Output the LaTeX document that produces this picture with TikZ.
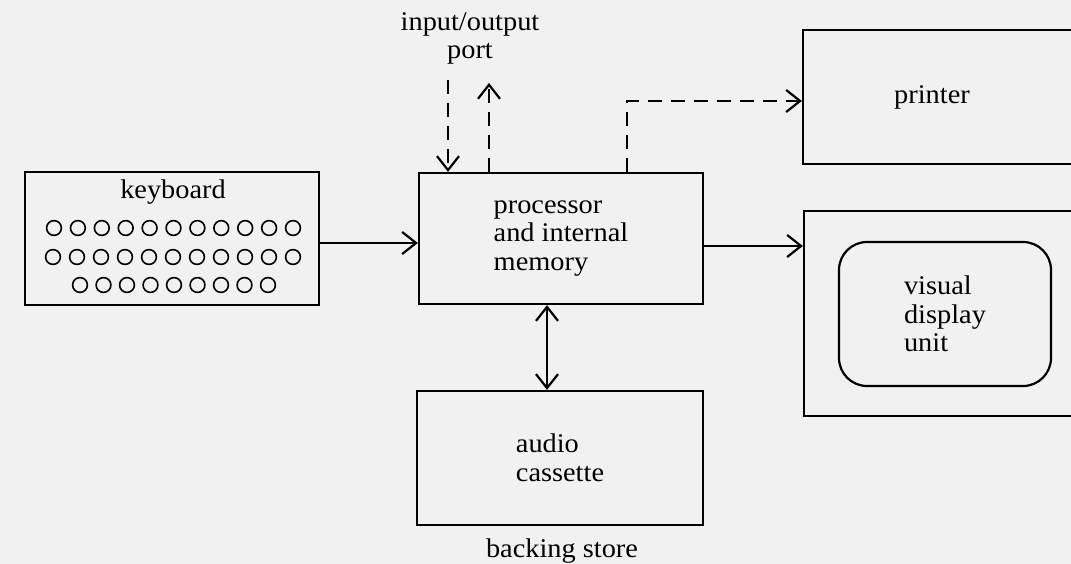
\documentclass[tikz,border=0pt]{standalone}
\usepackage{fontspec}
\setmainfont{Liberation Serif}[FakeStretch=1.05]
\usetikzlibrary{arrows.meta}
\definecolor{paper}{RGB}{241,241,241}
\begin{document}
\begin{tikzpicture}[x=1pt,y=-1pt,
  box/.style={draw,line width=2.2pt,rectangle,inner sep=0pt},
  lbl/.style={font=\fontsize{27}{28.5}\selectfont,inner sep=0pt,align=left},
  arr/.style={line width=2.2pt,-{Straight Barb[length=14pt,width=22pt]}},
  biarr/.style={line width=2.2pt,{Straight Barb[length=14pt,width=22pt]}-{Straight Barb[length=14pt,width=22pt]}},
  darr/.style={arr,dash pattern=on 14pt off 9pt},
  keyline/.style={line width=1.6pt}]
\useasboundingbox (0,0) rectangle (1071,564);
\fill[paper] (0,0) rectangle (1071,564);
\clip (0,0) rectangle (1071,564);

% boxes
\node[box,minimum width=294pt,minimum height=133pt] (kbd) at (172,238.5) {};
\node[box,lbl,minimum width=284pt,minimum height=131pt] (proc) at (561,238.5)
  {processor\\and internal\\memory};
\node[box,lbl,minimum width=286pt,minimum height=134pt] (audio) at (560,458)
  {audio\\cassette};
\node[box,minimum width=287pt,minimum height=134pt] (printer) at (946.5,97) {};
\node[box,minimum width=286pt,minimum height=205pt] (vdu) at (947,313.5) {};
\node[box,lbl,rounded corners=28pt,minimum width=212pt,minimum height=144pt] (screen) at (945,314)
  {visual\\display\\unit};

% texts
\node[lbl,anchor=base] (kbdtxt) at (173,199) {keyboard};
\node[lbl,anchor=base] (prntxt) at (932,104) {printer};
\node[lbl,align=center,anchor=base] (io) at (470,59) {input/output\\port};
\node[lbl,anchor=base] (bs) at (562,557) {backing store};

% keys
\foreach \i in {0,...,10} \draw[keyline] (54+\i*23.9,228) circle[radius=7.4pt];
\foreach \i in {0,...,10} \draw[keyline] (53+\i*24,257) circle[radius=7.4pt];
\foreach \i in {0,...,8} \draw[keyline] (80+\i*23.5,285) circle[radius=7.4pt];

% connectors
\draw[arr] ([yshift=-4.5pt]kbd.east) -- ([yshift=-4.5pt]proc.west);
\coordinate (pv) at ([yshift=-7.5pt]proc.east);
\draw[arr] (pv) -- (pv -| vdu.west);
\coordinate (pa) at ([xshift=-14pt]proc.south);
\draw[biarr] (pa) -- (pa |- audio.north);
\coordinate (ioin) at (448,80);
\draw[darr] (ioin) -- (ioin |- proc.north);
\coordinate (ioout) at (489,83);
\draw[darr] (ioout |- proc.north) -- (ioout);
\coordinate (pp) at ([yshift=-4pt]printer.west);
\coordinate (pt) at (627,0);
\draw[darr] (pt |- proc.north) |- (pp);
\end{tikzpicture}
\end{document}
